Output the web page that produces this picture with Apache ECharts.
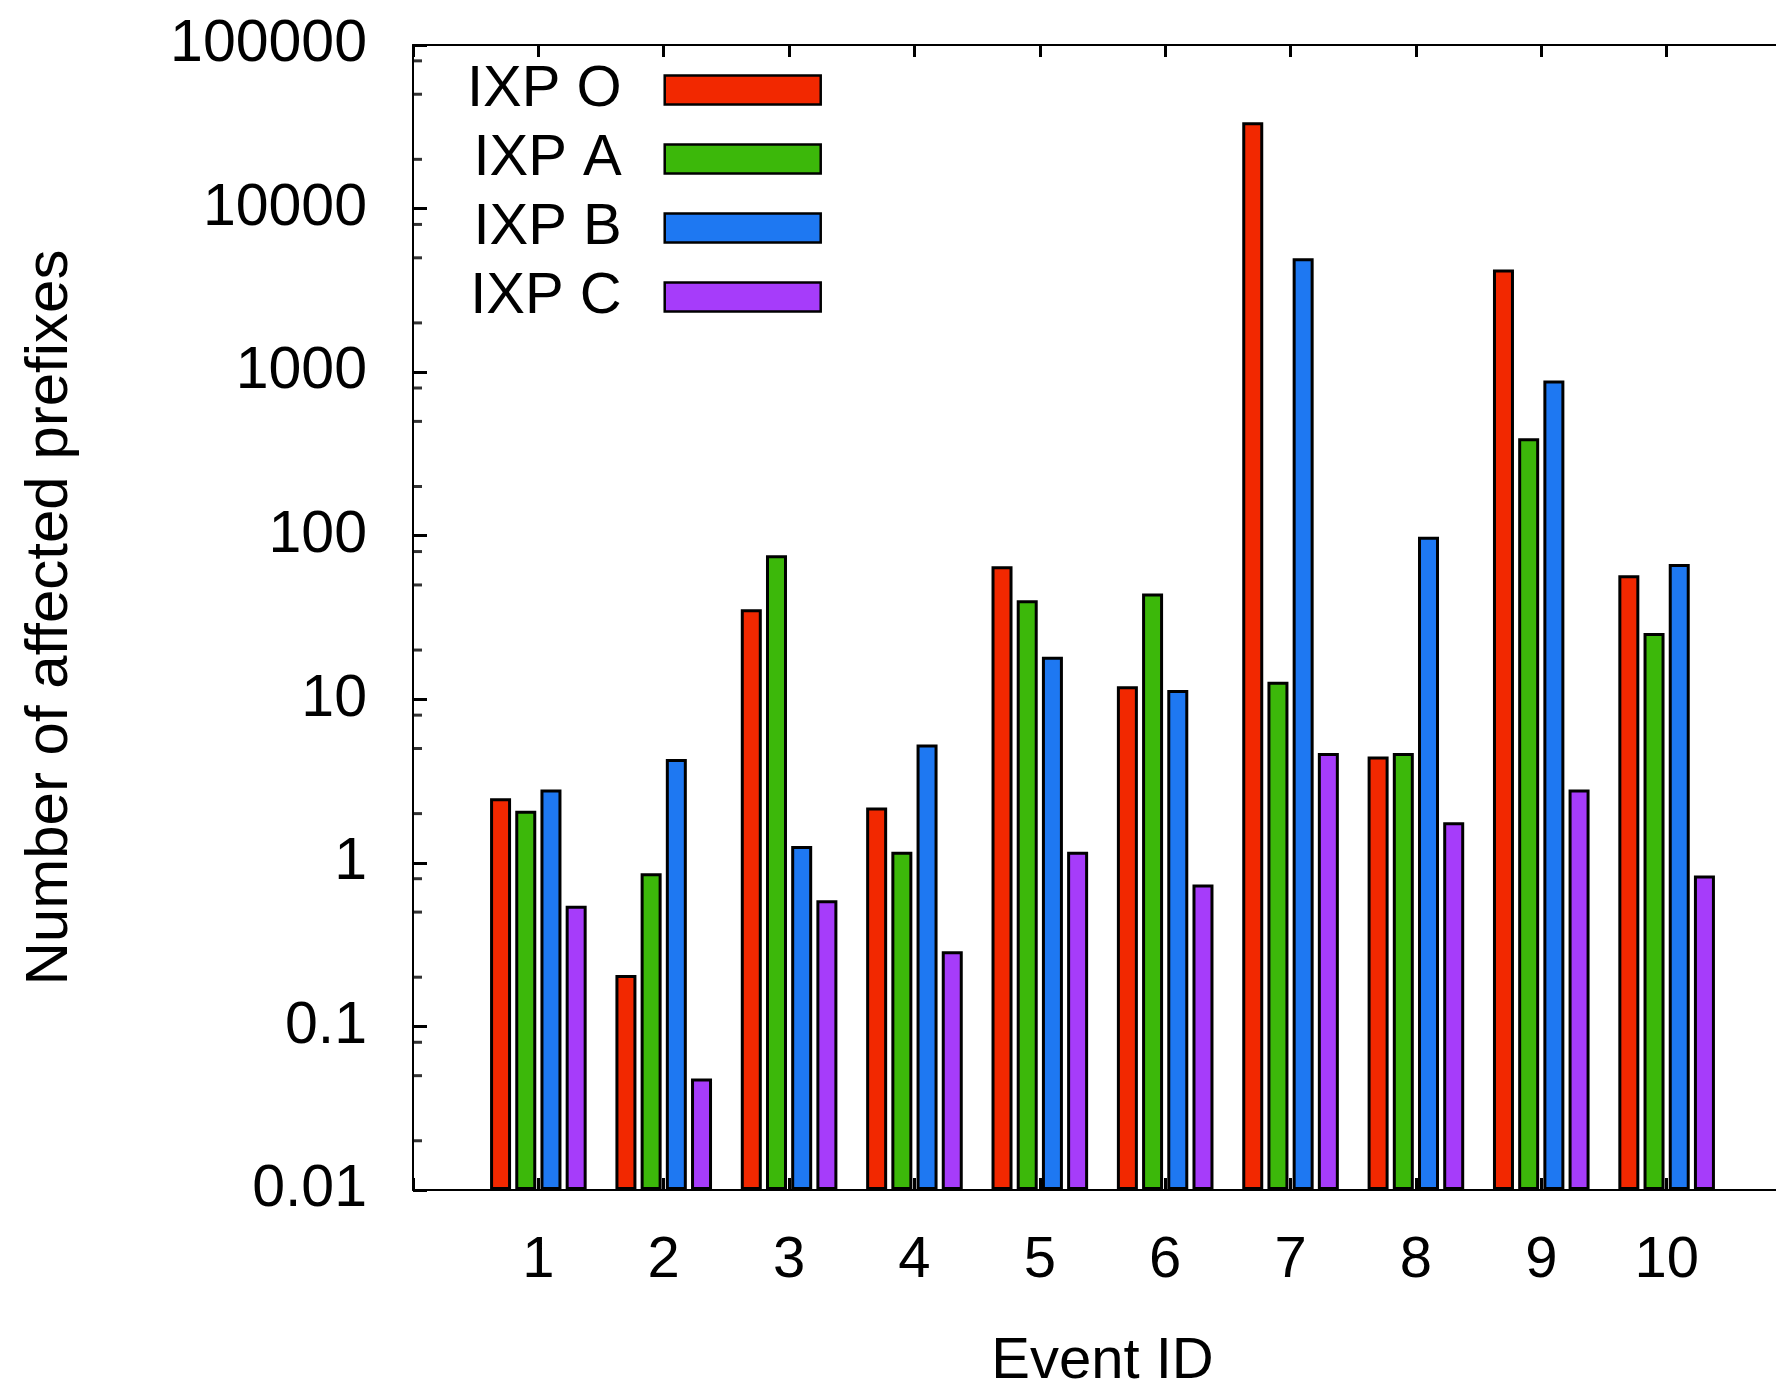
<!DOCTYPE html>
<html>
<head>
<meta charset="utf-8">
<script src="https://cdn.jsdelivr.net/npm/echarts@6/dist/echarts.min.js"></script>
<style>
html,body{margin:0;padding:0;background:#fff;}
#chart{width:1776px;height:1384px;}
</style>
</head>
<body>
<div id="chart"></div>
<script>
// ---- data ----
var categories = ['', '1', '2', '3', '4', '5', '6', '7', '8', '9', '10', ''];
var seriesNames = ['IXP O', 'IXP A', 'IXP B', 'IXP C'];
var ixpO = [null, 2.48, 0.206, 35.5, 2.18, 65, 12, 33700, 4.47, 4240, 57.3, null];
var ixpA = [null, 2.08, 0.865, 76, 1.17, 40.3, 44.4, 12.8, 4.69, 394, 25.4, null];
var ixpB = [null, 2.81, 4.32, 1.27, 5.3, 18.2, 11.4, 4970, 98.5, 889, 67.1, null];
var ixpC = [null, 0.546, 0.048, 0.59, 0.288, 1.17, 0.738, 4.69, 1.77, 2.81, 0.837, null];
var yTickLabels = ['0.01', '0.1', '1', '10', '100', '1000', '10000', '100000'];
var minorTickMultipliers = [2, 5, 8];
var decadeExponents = [-2, -1, 0, 1, 2, 3, 4];

var colors = ['#f22800', '#3cb80a', '#1e78f2', '#a63cfa'];
var FONT = 'Liberation Sans, Arial, Helvetica, sans-serif';

var minorTickData = [];
decadeExponents.forEach(function (e) {
  minorTickMultipliers.forEach(function (m) {
    minorTickData.push([0, m * Math.pow(10, e)]);
  });
});

var values = [ixpO, ixpA, ixpB, ixpC];
var barSeries = values.map(function (arr, i) {
  return {
    name: seriesNames[i],
    type: 'bar',
    data: arr,
    barWidth: 21,
    barGap: '20%',
    itemStyle: { color: colors[i], borderColor: '#000', borderWidth: 3 },
    emphasis: { disabled: true },
    animation: false
  };
});

var chart = echarts.init(document.getElementById('chart'), null, { renderer: 'canvas' });
chart.setOption({
  animation: false,
  backgroundColor: '#fff',
  textStyle: { fontFamily: FONT },
  grid: { left: 413, right: -16, top: 45, bottom: 194, containLabel: false, outerBoundsMode: 'none' },
  legend: {
    data: seriesNames,
    orient: 'vertical',
    align: 'right',
    left: 467,
    top: 61,
    padding: 0,
    itemWidth: 156,
    itemHeight: 29,
    itemGap: 11,
    icon: 'rect',
    selectedMode: false,
    itemStyle: { borderWidth: 2.5, borderColor: '#000' },
    textStyle: { fontFamily: FONT, fontSize: 58, color: '#000', lineHeight: 58, padding: [0, 38, 0, 0] }
  },
  xAxis: [{
    type: 'category',
    data: categories,
    boundaryGap: false,
    position: 'bottom',
    axisLine: { show: true, onZero: false, lineStyle: { color: '#000', width: 2 } },
    axisTick: { show: true, inside: true, length: 12, interval: 0, lineStyle: { color: '#000', width: 3 } },
    axisLabel: { interval: 0, margin: 42, fontSize: 58, color: '#000', fontFamily: FONT },
    name: 'Event ID',
    nameLocation: 'middle',
    nameGap: 143,
    nameTextStyle: { fontSize: 58, color: '#000', fontFamily: FONT },
    splitLine: { show: false }
  }, {
    type: 'category',
    data: categories,
    boundaryGap: false,
    position: 'top',
    axisLine: { show: true, onZero: false, lineStyle: { color: '#000', width: 2 } },
    axisTick: { show: true, inside: true, length: 12, interval: 0, lineStyle: { color: '#000', width: 3 } },
    axisLabel: { show: false },
    splitLine: { show: false }
  }],
  yAxis: {
    type: 'log',
    logBase: 10,
    min: 0.01,
    max: 100000,
    interval: 1,
    startValue: 0.01,
    axisLine: { show: true, onZero: false, lineStyle: { color: '#000', width: 2 } },
    axisTick: { show: true, inside: true, length: 14, lineStyle: { color: '#000', width: 3 } },
    axisLabel: {
      margin: 46, fontSize: 59, color: '#000', fontFamily: FONT,
      formatter: function (v) {
        var idx = Math.round(Math.log10(v)) + 2;
        return yTickLabels[idx] !== undefined ? yTickLabels[idx] : '';
      }
    },
    splitLine: { show: false },
    name: 'Number of affected prefixes',
    nameLocation: 'middle',
    nameGap: 333,
    nameTextStyle: { fontSize: 60, color: '#000', fontFamily: FONT }
  },
  series: barSeries.concat([{
    name: 'minorTicks',
    type: 'scatter',
    data: minorTickData,
    symbol: 'rect',
    symbolSize: [9, 3],
    symbolOffset: [4.5, 0],
    itemStyle: { color: '#000' },
    silent: true,
    z: 5,
    animation: false
  }])
});
</script>
</body>
</html>
